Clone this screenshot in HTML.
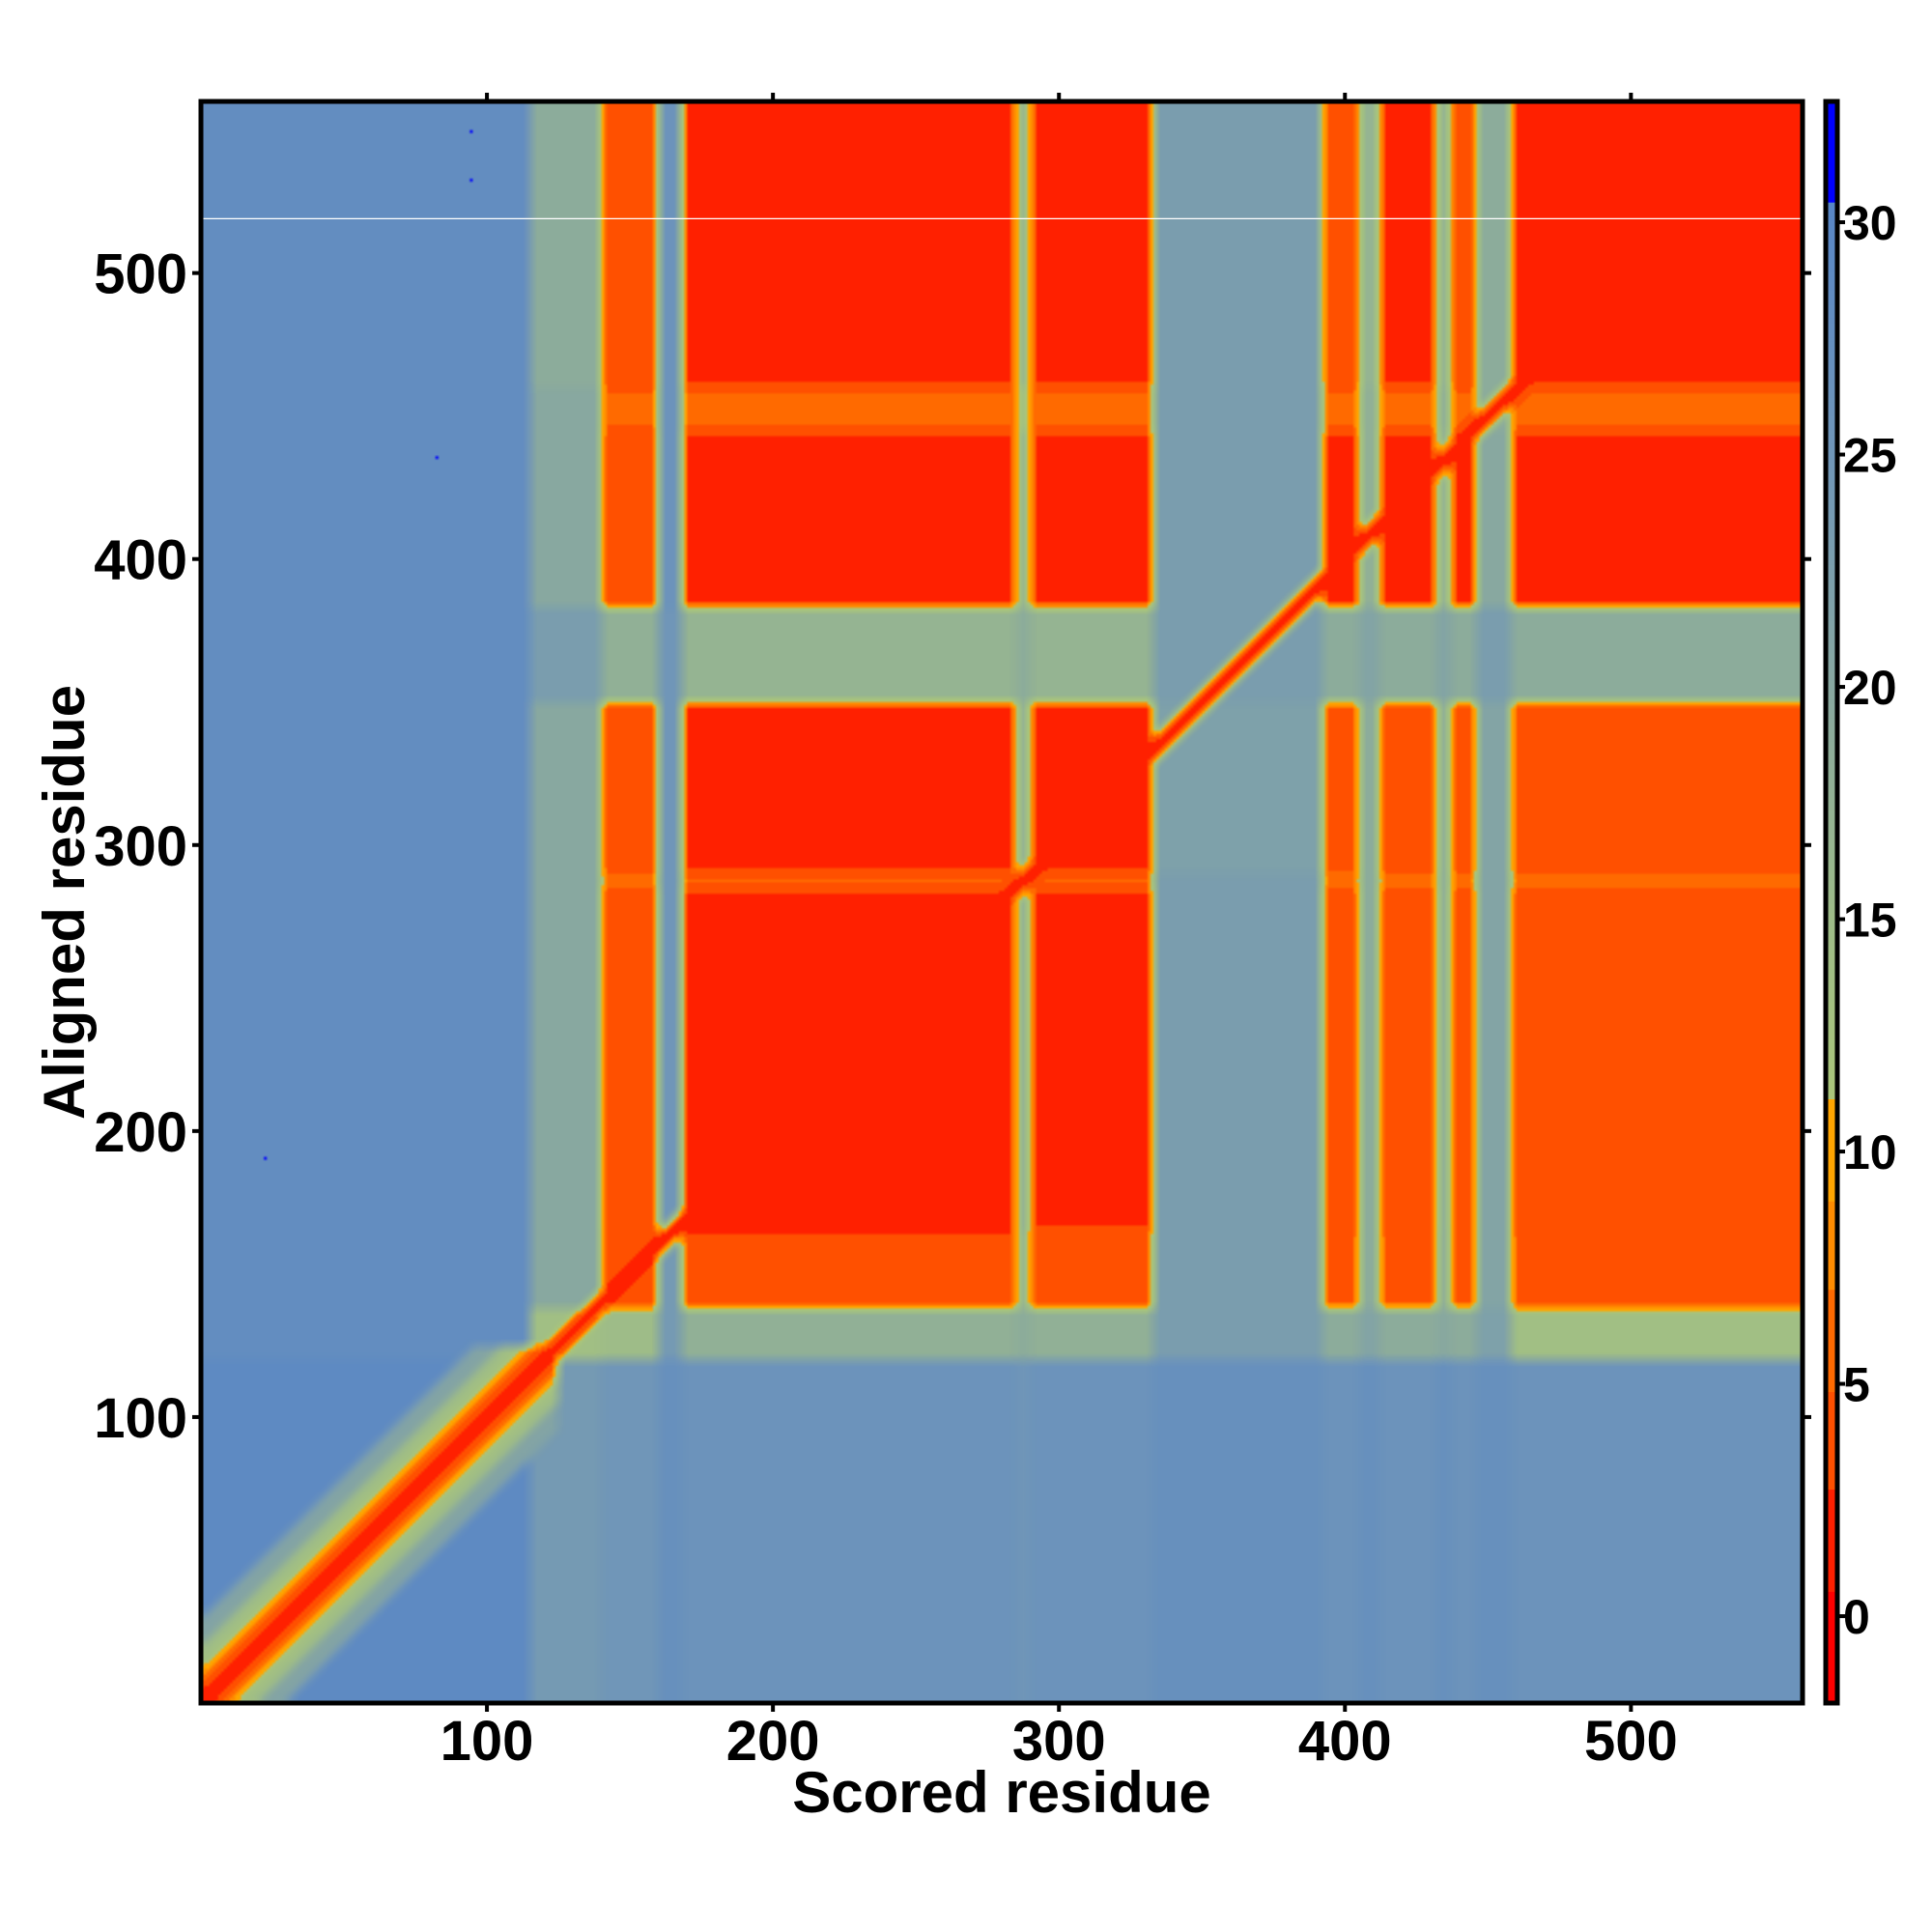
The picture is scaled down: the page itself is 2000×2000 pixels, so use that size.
<!DOCTYPE html>
<html><head><meta charset="utf-8">
<style>
html,body{margin:0;padding:0;background:#fff;}
#wrap{position:relative;width:2000px;height:2000px;overflow:hidden;background:#fff;}
#heat{position:absolute;left:208px;top:105px;width:1658px;height:1658px;}
#over{position:absolute;left:0;top:0;}
text{font-family:"Liberation Sans",Arial,sans-serif;font-weight:bold;fill:#000;}
</style></head>
<body>
<div id="wrap">
<canvas id="heat" width="560" height="560"></canvas>
<svg id="over" width="2000" height="2000"></svg>
</div>
<script>
// ---- data ----
const N = 560;
const xBounds = [0,115,140,160,168,285,290,333,392,405,412,432,437,446,458,561];
const yBounds = [0,120,138,165,285,290,350,383,445,460,561];
const blockRow0 = [29,24,25,27,26,25,26,27,26,27,26,27,26,27,26];
const blockRow1 = [28,14,15,24,18,19,18,23,19,21,19,20,19,22,14];
const blockRow2 = [28,20,3.5,24,3,16,3.5,23,4,19,4,18,4,21,3.5];
const blockRow3 = [28,20,3,25,2.2,17,2.5,23,3.5,19,3,18,3.5,21,3];
const blockRow4 = [28,20,6,25,5,14,5,23,6,19,6,18,6,21,6];
const blockRow5 = [28,20,3.5,25,2.5,17,2.5,22,4,19,3,18,3.5,21,3.5];
const blockRow6 = [28,23,18,25,17,19,17,23,19,21,19,21,19,23,19];
const blockRow7 = [28,20,3.5,26,2.5,16,2.5,23,2.5,18,2.5,17,2.5,20,2.5];
const blockRow8 = [28,20,5,26,5,13,5,23,5,18,5,18,5,19,5];
const blockRow9 = [28,19,3.5,26,2.5,16,2.5,23,3,17,2.5,17,3,19,2.5];
const blockRows = [blockRow0,blockRow1,blockRow2,blockRow3,blockRow4,blockRow5,blockRow6,blockRow7,blockRow8,blockRow9];
const diagOffsets = [2,5,8,12,20,30];
const diagNterm = [0.5,2,4.5,8,14,21];
const diagCore = [0.8,2.2,40,40,40,40];
const ntermEnd = 125;
const outlierX = [95,95,83,23];
const outlierY = [550,533,436,191];
const outlierV = [32,32,32,32];
const whiteRow = 519;
const xTicks = [100,200,300,400,500];
const yTicks = [100,200,300,400,500];
const cbTicks = [0,5,10,15,20,25,30];
const cbMin = -1.87, cbMax = 32.6;

// ---- color map ----
const lowBands = [[0.5,[255,0,0]],[2.7,[255,32,0]],[4.8,[255,80,0]],[7.0,[255,106,0]],[8.9,[255,140,0]],[11.1,[255,165,0]]];
const hiStops = [[11.1,[170,198,122]],[15,[158,188,136]],[20,[136,168,160]],[25,[112,150,184]],[30.4,[88,134,198]]];
function color(v){
  for(const b of lowBands){ if(v<b[0]) return b[1]; }
  if(v>30.4) return [0,0,255];
  for(let i=0;i<hiStops.length-1;i++){
    const a=hiStops[i],b=hiStops[i+1];
    if(v<=b[0]){const t=(v-a[0])/(b[0]-a[0]);return a[1].map((c,k)=>Math.round(c+(b[1][k]-c)*t));}
  }
  return hiStops[hiStops.length-1][1];
}
function segIndex(bounds,r){for(let i=0;i<bounds.length-1;i++){if(r>=bounds[i]&&r<bounds[i+1])return i;}return bounds.length-2;}

// ---- build field ----
const F = new Float32Array(N*N);
for(let y=0;y<N;y++){const ys=segIndex(yBounds,y+0.5);for(let x=0;x<N;x++){F[y*N+x]=blockRows[ys][segIndex(xBounds,x+0.5)];}}
for(let y=0;y<N;y++)for(let x=0;x<N;x++){
  const d=Math.abs(x-y);const prof=(Math.max(x,y)<ntermEnd)?diagNterm:diagCore;
  for(let i=0;i<diagOffsets.length;i++){if(d<diagOffsets[i]){F[y*N+x]=Math.min(F[y*N+x],prof[i]);break;}}
}
function blur(src,r){const t=new Float32Array(N*N),o=new Float32Array(N*N);
  for(let y=0;y<N;y++)for(let x=0;x<N;x++){let s=0,c=0;for(let k=-r;k<=r;k++){const xx=x+k;if(xx>=0&&xx<N){s+=src[y*N+xx];c++;}}t[y*N+x]=s/c;}
  for(let y=0;y<N;y++)for(let x=0;x<N;x++){let s=0,c=0;for(let k=-r;k<=r;k++){const yy=y+k;if(yy>=0&&yy<N){s+=t[yy*N+x];c++;}}o[y*N+x]=s/c;}
  return o;}
const G = blur(F,2);
for(let y=0;y<N;y++)for(let x=0;x<N;x++){
  if(Math.max(x,y)>=ntermEnd && Math.abs(x-y)<2){G[y*N+x]=Math.min(G[y*N+x],diagCore[0]);}
}
for(let i=0;i<outlierX.length;i++){G[(outlierY[i]-1)*N+outlierX[i]-1]=outlierV[i];}

const cv=document.getElementById('heat');const ctx=cv.getContext('2d');
const img=ctx.createImageData(N,N);
for(let y=0;y<N;y++)for(let x=0;x<N;x++){
  const c=color(G[y*N+x]);const p=((N-1-y)*N+x)*4;
  img.data[p]=c[0];img.data[p+1]=c[1];img.data[p+2]=c[2];img.data[p+3]=255;}
ctx.putImageData(img,0,0);

// ---- axes ----
const L=208,R=1866,T=105,B=1763;
function sx(r){return L+(R-L)*r/N;}
function sy(r){return B-(B-T)*r/N;}
const svg=document.getElementById('over');const NS='http://www.w3.org/2000/svg';
function mk(tag,attrs,txt){const e=document.createElementNS(NS,tag);for(const k in attrs)e.setAttribute(k,attrs[k]);if(txt!==undefined)e.textContent=txt;svg.appendChild(e);return e;}

let e=mk('line',{x1:L,x2:R,y1:sy(whiteRow),y2:sy(whiteRow),stroke:'#fff','stroke-width':1.3});



xTicks.forEach(t=>{
  let a=mk('line',{x1:sx(t),x2:sx(t),y1:B,y2:B+9,stroke:'#000','stroke-width':4});
  
  
  let b=mk('line',{x1:sx(t),x2:sx(t),y1:T,y2:T-9,stroke:'#000','stroke-width':4});
  
  
  let l=mk('text',{x:sx(t),y:1822,'text-anchor':'middle','font-size':58},String(t));
  
  
});
yTicks.forEach(t=>{
  let a=mk('line',{x1:L-9,x2:L,y1:sy(t),y2:sy(t),stroke:'#000','stroke-width':4});
  
  
  let b=mk('line',{x1:R,x2:R+9,y1:sy(t),y2:sy(t),stroke:'#000','stroke-width':4});
  
  
  let l=mk('text',{x:194,y:sy(t)+21,'text-anchor':'end','font-size':58},String(t));
  
  
});
e=mk('rect',{x:L,y:T,width:R-L,height:B-T,fill:'none',stroke:'#000','stroke-width':5});


e=mk('text',{x:1037,y:1876,'text-anchor':'middle','font-size':60},'Scored residue');


e=mk('text',{x:0,y:0,'text-anchor':'middle','font-size':60,transform:'translate(87,934) rotate(-90)'},'Aligned residue');



// ---- colorbar ----
const CL=1890,CW=12;
function cy(v){return B-(B-T)*(v-cbMin)/(cbMax-cbMin);}
for(let v=cbMin;v<cbMax;v+=0.1){
  const c=color(v+0.05);
  let r=mk('rect',{x:CL,y:cy(v+0.1)-0.3,width:CW,height:cy(v)-cy(v+0.1)+0.6,fill:'rgb('+c.join(',')+')'});
  
  
}
e=mk('rect',{x:CL,y:T,width:CW,height:B-T,fill:'none',stroke:'#000','stroke-width':5});


cbTicks.forEach(t=>{
  let a=mk('line',{x1:CL+CW,x2:CL+CW+8,y1:cy(t),y2:cy(t),stroke:'#000','stroke-width':4});
  
  
  let l=mk('text',{x:1908,y:cy(t)+18,'font-size':50},String(t));
  
  
});
</script>
</body></html>
